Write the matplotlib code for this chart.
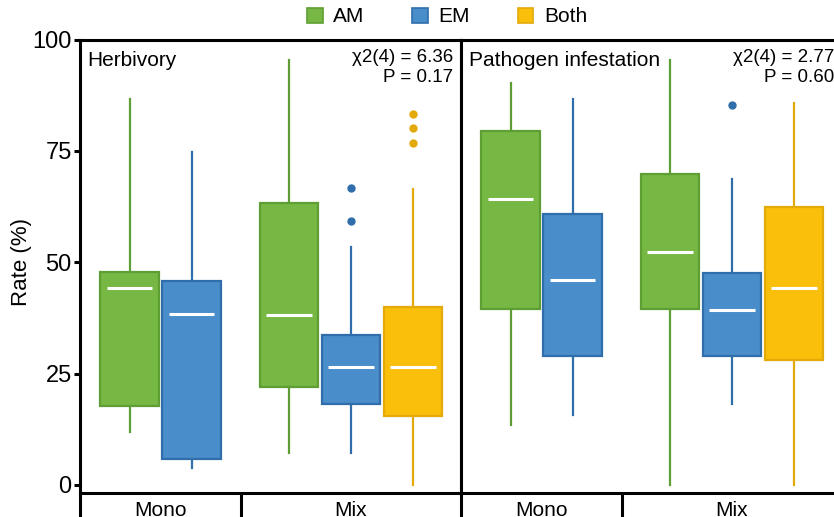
import matplotlib
matplotlib.use("Agg")
import matplotlib.pyplot as plt
from matplotlib.patches import Patch

plt.rcParams['font.family'] = ['Liberation Sans', 'DejaVu Sans']

# Data
kinds = ["AM", "EM", "Both"]
group_labels = ["Mono", "Mix"]
box_kind = ["AM", "EM", "AM", "EM", "Both"]

herb_q1 = [17.7, 5.9, 22.0, 18.1, 15.4]
herb_med = [44.1, 38.3, 38.1, 26.5, 26.4]
herb_q3 = [47.7, 45.8, 63.4, 33.6, 39.9]
herb_lo = [11.8, 3.9, 7.1, 7.1, 0.0]
herb_hi = [86.6, 74.7, 95.5, 53.4, 66.5]
herb_out = [[], [], [], [66.7, 59.3], [83.3, 80.1, 76.7]]

path_q1 = [39.5, 29.0, 39.6, 29.0, 28.1]
path_med = [64.1, 46.0, 52.3, 39.2, 44.2]
path_q3 = [79.4, 60.8, 69.9, 47.6, 62.4]
path_lo = [13.4, 15.8, 0.0, 18.2, 0.0]
path_hi = [90.3, 86.6, 95.4, 68.7, 85.8]
path_out = [[], [], [], [85.4], []]

panels = [
    ("Herbivory", "χ2(4) = 6.36\nP = 0.17", herb_q1, herb_med, herb_q3, herb_lo, herb_hi, herb_out),
    ("Pathogen infestation", "χ2(4) = 2.77\nP = 0.60", path_q1, path_med, path_q3, path_lo, path_hi, path_out),
]

fill = {"AM": "#76B843", "EM": "#4A8DCB", "Both": "#F9BF0B"}
edge = {"AM": "#5F9E34", "EM": "#2F6EAA", "Both": "#E3AA0A"}

# layout in pixel-like x units inside each panel
positions = [49.5, 111.5, 209, 271, 333]
group_edges = [0, 161]
group_centers = [80.5, 271]
bw = 58.5

W, H = 834, 517
fig = plt.figure(figsize=(W / 100, H / 100), dpi=100)

top_px, bot_px = 39.5, 492.5
for i, (title, stat, q1, med, q3, lo, hi, out) in enumerate(panels):
    left_px = 80 + i * 381
    ax = fig.add_axes([left_px / W, (H - bot_px) / H, 381 / W, (bot_px - top_px) / H])
    stats = []
    for j in range(5):
        stats.append(dict(q1=q1[j], med=med[j], q3=q3[j], whislo=lo[j], whishi=hi[j],
                          fliers=out[j]))
    bp = ax.bxp(stats, positions=positions, widths=bw, patch_artist=True,
                showcaps=False, manage_ticks=False)
    for j, k in enumerate(box_kind):
        bp['boxes'][j].set(facecolor=fill[k], edgecolor=edge[k], linewidth=1.6)
        for w in bp['whiskers'][2 * j:2 * j + 2]:
            w.set(color=edge[k], linewidth=1.6)
        bp['fliers'][j].set(marker='o', markerfacecolor=edge[k], markeredgecolor=edge[k],
                            markersize=5)
        bp['medians'][j].set_visible(False)
    ax.hlines(med, [p - bw * 0.39 for p in positions], [p + bw * 0.39 for p in positions],
              colors='white', linewidth=2.2, zorder=4)

    ax.set_xlim(0, 381)
    ax.set_ylim(-1.7, 100)
    for s in ax.spines.values():
        s.set_linewidth(2.2)
    ax.set_xticks(group_edges)
    ax.set_xticklabels([])
    ax.tick_params(axis='x', which='major', length=18, width=2.2, direction='out')
    ax.set_xticks(group_centers, minor=True)
    ax.set_xticklabels(group_labels, minor=True, fontsize=15)
    ax.tick_params(axis='x', which='minor', length=0, pad=6)
    if i == 0:
        ax.set_yticks([0, 25, 50, 75, 100])
        ax.tick_params(axis='y', length=4, width=2.2, labelsize=17, pad=2)
    else:
        ax.set_yticks([])
    ax.text(0.02, 0.975, title, transform=ax.transAxes, ha='left', va='top', fontsize=15)
    ax.text(0.98, 0.98, stat, transform=ax.transAxes, ha='right', va='top', fontsize=13.5,
            linespacing=1.25)

fig.text(22 / W, 1 - 262 / H, "Rate (%)", rotation=90, ha='center', va='center', fontsize=16)

handles = [Patch(facecolor=fill[k], edgecolor=edge[k], linewidth=1.2, label=k) for k in kinds]
fig.legend(handles=handles, loc='center', bbox_to_anchor=(447 / W, 1 - 17 / H), ncol=3,
           frameon=False, fontsize=15, handlelength=0.75, handleheight=0.75,
           handletextpad=0.5, columnspacing=2.3, borderpad=0)

fig.savefig("out.png", dpi=100)
